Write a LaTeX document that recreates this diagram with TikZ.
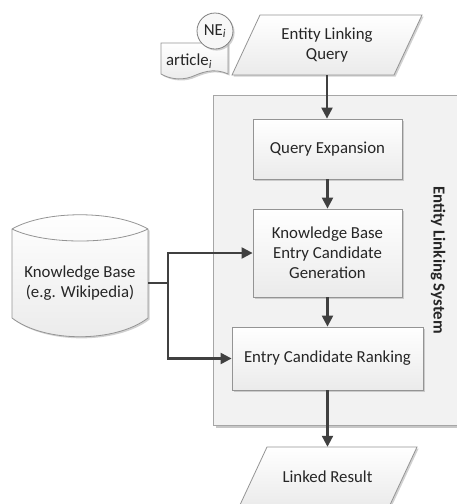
\documentclass[tikz,border=0pt]{standalone}
\usepackage{fontspec}
\setmainfont{Carlito}
\usetikzlibrary{arrows.meta,shadows,calc}
\tikzset{
  lbl/.style={font=\fontsize{16.8}{20}\selectfont, text=black!85, align=center, inner sep=0pt},
  shade box/.style={draw=black!42, line width=0.8pt, top color=white, bottom color=black!8},
  shad/.style={drop shadow={shadow xshift=1.6pt, shadow yshift=-1.6pt, fill=black!30, opacity=0.6}},
  box/.style={lbl, shade box, shad},
  arr/.style={draw=black!75, line width=2.2pt, -{Triangle[length=11pt,width=11pt]}},
  ln/.style={draw=black!75, line width=2.2pt}
}
\begin{document}
\begin{tikzpicture}[x=1pt,y=-1pt]
\useasboundingbox (0,0) rectangle (457,504);
\clip (0,0) rectangle (457,504);

% system container
\fill[black!22] (215.5,97.5) rectangle (470,427.5);
\draw[draw=black!35, line width=0.8pt, fill=black!5] (213,95) rectangle (470,425);
\node[lbl, font=\fontsize{16.8}{20}\selectfont\bfseries, rotate=-90] (title) at (438,260) {Entity Linking System};

% inner boxes
\node[box, minimum width=149pt, minimum height=60pt] (qe) at (327.5,149) {Query Expansion};
\node[box, minimum width=149pt, minimum height=88pt] (gen) at (327.5,253) {Knowledge Base\\Entry Candidate\\Generation};
\node[box, minimum width=191pt, minimum height=63pt] (rank) at (327.5,358.5) {Entry Candidate Ranking};

% query parallelogram
\path[shade box, shad] (260,15) -- (422,15) -- (394,75) -- (232,75) -- cycle;
\node[lbl, minimum height=60pt] (query) at (327,45) {Entity Linking\\Query};

% linked result parallelogram
\path[shade box, shad] (267,447) -- (417,447) -- (389,507) -- (239,507) -- cycle;
\node[lbl, minimum height=60pt] (lr) at (327.5,477) {Linked Result};

% document with NE circle
\path[shade box, shad] (161,43) -- (228,43) -- (228,74)
  .. controls (213,67) and (201,73) .. (191,77)
  .. controls (179,81) and (168,78) .. (161,74) -- cycle;
\node[lbl, anchor=west] (art) at (166,61) {article\textsubscript{\itshape i}};
\fill[black!30, opacity=0.6] (216.6,32.6) circle (18pt);
\filldraw[draw=black!50, line width=0.8pt, fill=black!3] (215,31) circle (18pt);
\node[lbl] (ne) at (215,31) {NE\textsubscript{\itshape i}};

% knowledge base cylinder
\path[shade box, shad] (12,229) .. controls (45,210) and (115,210) .. (148,229)
  -- (148,318) .. controls (115,343) and (45,343) .. (12,318) -- cycle;
\draw[draw=black!42, line width=0.8pt] (12,229) .. controls (45,245) and (115,245) .. (148,229);
\node[lbl, minimum width=136pt, minimum height=108pt] (kb) at (80,283) {Knowledge Base\\(e.g. Wikipedia)};

% connectors
\coordinate (split) at (168,283);
\draw[ln] (kb.east) -- (split);
\draw[arr] (split) |- (gen.west);
\draw[arr] (split) |- (rank.west);
\draw[arr] (query.south) -- (query.south |- qe.north);
\draw[arr] (qe.south) -- (gen.north);
\draw[arr] (gen.south) -- (rank.north);
\draw[arr] (rank.south) -- (rank.south |- lr.north);
\end{tikzpicture}
\end{document}
